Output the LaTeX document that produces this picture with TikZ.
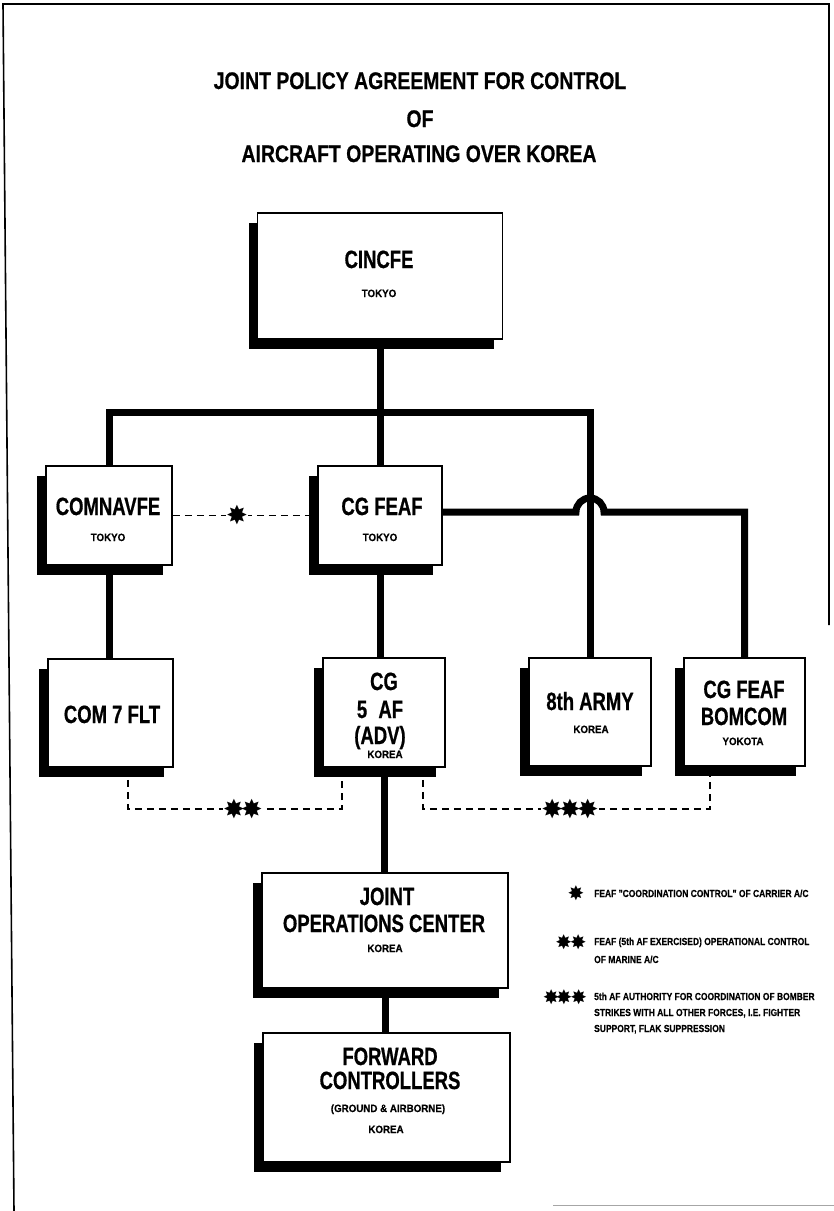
\documentclass[tikz,border=0pt]{standalone}
\usepackage{fontspec}
\setmainfont{Liberation Sans}
\newfontfamily\titlef{Liberation Sans}[FakeStretch=0.81, FakeBold=0.6]
\newfontfamily\boxf{Liberation Sans}[FakeStretch=0.74, FakeBold=0.6]
\newfontfamily\smallf{Liberation Sans}[FakeStretch=0.92, FakeBold=0.3]
\newfontfamily\legf{Liberation Sans}[FakeStretch=0.83, FakeBold=0.3]
\newfontfamily\symf{DejaVu Sans}
\usetikzlibrary{shadows}
\begin{document}
\begin{tikzpicture}[x=1pt,y=-1pt,
  orgbox/.style={draw=black, line width=1.8pt, fill=white, inner sep=0pt,
    drop shadow={shadow xshift=-9pt, shadow yshift=-10pt, fill=black, opacity=1, draw=none}},
  bigt/.style={font=\boxf\bfseries\fontsize{25}{25}\selectfont, anchor=base, inner sep=0pt},
  smallt/.style={font=\smallf\bfseries\fontsize{10.6}{10.6}\selectfont, anchor=base, inner sep=0pt},
  titlet/.style={font=\titlef\bfseries\fontsize{24}{24}\selectfont, anchor=base, inner sep=0pt},
  legt/.style={font=\legf\bfseries\fontsize{10.2}{10.2}\selectfont, anchor=base west, inner sep=0pt},
  conn/.style={line width=7pt, line cap=butt, line join=miter},
  dashconn/.style={line width=1.2pt, dash pattern=on 7pt off 5pt},
  astl/.style={font=\symf\fontsize{26}{26}\selectfont, fill=white, inner sep=0pt},
  legast/.style={font=\symf\fontsize{20}{20}\selectfont, inner sep=0pt}]

\fill[white] (0,0) rectangle (834,1211);
\useasboundingbox (0,0) rectangle (834,1211);

% page border
\draw[line width=1.6pt] (14,1211) -- (3,4) -- (829,4) -- (829,625);
\draw[line width=1pt, black!35] (553,1205) -- (834,1205);

% title
\node[titlet] (title1) at (420,89) {JOINT POLICY AGREEMENT FOR CONTROL};
\node[titlet] (title2) at (420,127) {OF};
\node[titlet] (title3) at (419,162) {AIRCRAFT OPERATING OVER KOREA};

% boxes
\node[orgbox, minimum width=245pt, minimum height=126pt] (cincfe)   at (380,276)   {};
\node[orgbox, minimum width=126pt, minimum height=99pt]  (comnavfe) at (109,515.5) {};
\node[orgbox, minimum width=124pt, minimum height=99pt]  (cgfeaf)   at (380,515.5) {};
\node[orgbox, minimum width=125pt, minimum height=108pt] (com7)     at (110.5,713) {};
\node[orgbox, minimum width=122pt, minimum height=109pt] (cgfiveaf) at (384,712.5) {};
\node[orgbox, minimum width=122pt, minimum height=108pt] (army)     at (590,712)   {};
\node[orgbox, minimum width=121pt, minimum height=108pt] (bomcom)   at (744.5,712) {};
\node[orgbox, minimum width=246pt, minimum height=115pt] (joc)      at (385,930.5) {};
\node[orgbox, minimum width=247pt, minimum height=129pt] (fc)       at (386.5,1097.5) {};

% box texts
\node[bigt]   (cincfe-a) at (379,268) {CINCFE};
\node[smallt] (cincfe-b) at (379,297) {TOKYO};
\node[bigt]   (comnavfe-a) at (108,515) {COMNAVFE};
\node[smallt] (comnavfe-b) at (108,541) {TOKYO};
\node[bigt]   (cgfeaf-a) at (382,515) {CG FEAF};
\node[smallt] (cgfeaf-b) at (380,541) {TOKYO};
\node[bigt]   (com7-a) at (112,723) {COM 7 FLT};
\node[bigt]   (cgfiveaf-a) at (384,690) {CG};
\node[bigt]   (cgfiveaf-b) at (380,718) {5\hspace{0.45em}AF};
\node[bigt]   (cgfiveaf-c) at (380,744) {(ADV)};
\node[smallt] (cgfiveaf-d) at (385,758) {KOREA};
\node[bigt]   (army-a) at (590,710) {8th ARMY};
\node[smallt] (army-b) at (591,733) {KOREA};
\node[bigt]   (bomcom-a) at (744,698) {CG FEAF};
\node[bigt]   (bomcom-b) at (744,725) {BOMCOM};
\node[smallt] (bomcom-c) at (743,745) {YOKOTA};
\node[bigt]   (joc-a) at (387,905) {JOINT};
\node[bigt]   (joc-b) at (384,932) {OPERATIONS CENTER};
\node[smallt] (joc-c) at (385,952) {KOREA};
\node[bigt]   (fc-a) at (390,1065) {FORWARD};
\node[bigt]   (fc-b) at (390,1089) {CONTROLLERS};
\node[smallt] (fc-c) at (388,1112) {(GROUND \& AIRBORNE)};
\node[smallt] (fc-d) at (386,1133) {KOREA};

% solid connectors
\coordinate (bus) at (380,412);
\draw[conn] (cincfe.south) -- (cgfeaf.north);
\draw[conn] (comnavfe.north) |- (bus) -| (army.north);
\draw[conn] (comnavfe.south) -- (com7.north -| comnavfe.south);
\draw[conn] (cgfeaf.south) -- (cgfiveaf.north -| cgfeaf.south);
\draw[conn] (cgfiveaf.south) -- (joc.north -| cgfiveaf.south);
\draw[conn] (joc.south) -- (fc.north -| joc.south);
\coordinate (jmp) at (590,512);
\draw[conn] (cgfeaf.east |- jmp) -- ([xshift=-14pt]jmp)
   arc[start angle=180, end angle=0, radius=14pt] -- (jmp -| bomcom.north) -- (bomcom.north);

% dashed connectors
\draw[dashconn] (comnavfe.east) -- node[astl, pos=0.445] (ast1) {✸} (cgfeaf.west);
\coordinate (dtwoL) at (128,809);
\coordinate (dtwoR) at (342,809);
\draw[dashconn] (com7.south -| dtwoL) -- (dtwoL) -- node[astl, pos=0.537] (ast2) {✸\kern-4pt✸} (dtwoR) -- (cgfiveaf.south -| dtwoR);
\coordinate (dthrL) at (423,809);
\coordinate (dthrR) at (710,809);
\draw[dashconn] (cgfiveaf.south -| dthrL) -- (dthrL) -- node[astl, pos=0.512] (ast3) {✸\kern-4pt✸\kern-4pt✸} (dthrR) -- (bomcom.south -| dthrR);

% legend
\node[legast] (lg1s) at (576,893) {✸};
\node[legt] (lg1) at (594,897) {FEAF "COORDINATION CONTROL" OF CARRIER A/C};
\node[legast] (lg2s) at (571,942) {✸\kern-2.5pt✸};
\node[legt] (lg2a) at (594,945) {FEAF (5th AF EXERCISED) OPERATIONAL CONTROL};
\node[legt] (lg2b) at (594,963) {OF MARINE A/C};
\node[legast] (lg3s) at (565,997) {✸\kern-4pt✸\kern-2pt✸};
\node[legt] (lg3a) at (594,1000) {5th AF AUTHORITY FOR COORDINATION OF BOMBER};
\node[legt] (lg3b) at (594,1016) {STRIKES WITH ALL OTHER FORCES, I.E. FIGHTER};
\node[legt] (lg3c) at (594,1032) {SUPPORT, FLAK SUPPRESSION};
\end{tikzpicture}
\end{document}
